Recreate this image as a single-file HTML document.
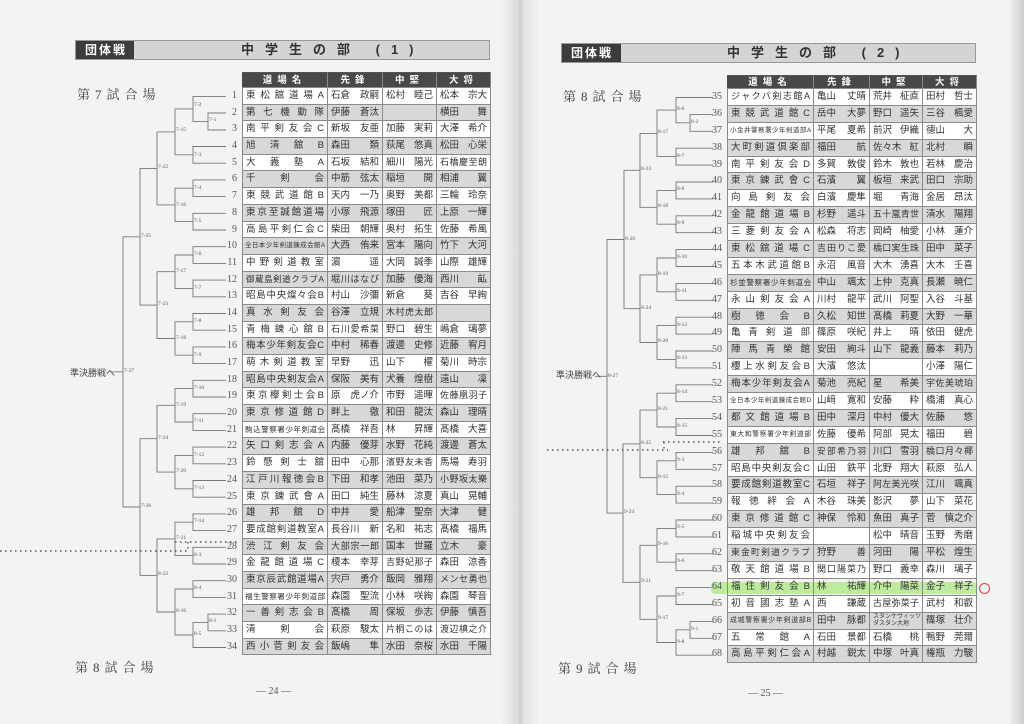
<!DOCTYPE html>
<html><head><meta charset="utf-8">
<style>
*{margin:0;padding:0;box-sizing:border-box}
body{width:1024px;height:724px;overflow:hidden;background:#f3f3f1;font-family:"Liberation Sans","Noto Sans CJK JP",sans-serif;color:#333;position:relative}
.fold{position:absolute;left:500px;top:0;width:40px;height:724px;background:linear-gradient(90deg,#f3f3f1,#dcdcda 45%,#cfcfcd 50%,#e2e2e0 60%,#f4f4f2)}
.redge{position:absolute;left:1010px;top:0;width:14px;height:724px;background:linear-gradient(90deg,#eee,#cfcfcf)}
.hb{position:absolute;height:20px;background:#d4d4d4;border:1px solid #999}
.hb .d{position:absolute;left:0;top:0;bottom:0;background:#3c3c3c;color:#fff;font-weight:bold;font-size:12px;line-height:18px;padding-left:9px;letter-spacing:2px}
.hb .t{position:absolute;top:0;line-height:18px;font-size:13px;font-weight:bold;color:#333;letter-spacing:11px}
.lab{position:absolute;font-family:"Liberation Serif","Noto Serif CJK SC",serif;font-size:13px;color:#444;letter-spacing:5px}
.pg{position:absolute;font-size:10px;color:#555;font-family:"Liberation Serif",serif}
.tb{position:absolute}
.r{display:flex;font-size:9.5px;line-height:15px}
.r .no{width:15px;text-align:right;margin-right:5px;font-family:"Liberation Serif",serif;color:#555;font-size:10px;}
.r>div{border-right:1px solid #8a8a8a;border-bottom:1px solid #8a8a8a;padding:0 3px;white-space:nowrap;overflow:hidden;background:#fff}
.r>div.n{border-left:1px solid #8a8a8a;text-align:justify;text-align-last:justify}
.r .n.sm{font-size:6.5px;letter-spacing:-0.2px;padding:0 2px}
.r .p{display:flex;justify-content:space-between}
.r .p.j{text-align-last:justify;display:block;font-size:9px}
.r i{font-style:normal}
.r.s>div{background:#d8d8d8}
.r.h>div{background:#484848;color:#fff;font-weight:bold;border-top:1px solid #555;text-align:center;letter-spacing:5px;text-align-last:center}
.L .r{height:16.7px}.L .r>div{line-height:15.7px}
.R .r{height:16.9px}.R .r>div{line-height:15.9px}
.L .c1{width:86px}.L .c2{width:55px}.L .c3{width:54px}.L .c4{width:54px}
.R .c1{width:87px}.R .c2{width:56px}.R .c3{width:53px}.R .c4{width:54px}
.sm2{font-size:6px;line-height:7px!important}
</style></head><body>
<div class="fold"></div><div class="redge"></div>

<div class="hb" style="left:75px;top:40px;width:415px"><div class="d" style="width:58px">団体戦</div><div class="t" style="left:165px">中学生の部 (1)</div></div>
<div class="hb" style="left:561px;top:43px;width:415px"><div class="d" style="width:59px">団体戦</div><div class="t" style="left:165px">中学生の部 (2)</div></div>

<div class="lab" style="left:77px;top:84px">第7試合場</div>
<div class="lab" style="left:75px;top:657px">第8試合場</div>
<div class="lab" style="left:563px;top:86px">第8試合場</div>
<div class="lab" style="left:558px;top:658px">第9試合場</div>
<div class="pg" style="left:256px;top:686px">— 24 —</div>
<div class="pg" style="left:748px;top:688px">— 25 —</div>
<div style="position:absolute;left:70px;top:366px;font-size:9px;color:#444">準決勝戦へ</div>
<div style="position:absolute;left:556px;top:368px;font-size:9px;color:#444">準決勝戦へ</div>

<svg style="position:absolute;left:0;top:0" width="1024" height="724" fill="none" stroke="#777" stroke-width="0.9">
<g>
<path d="M226 113 H208 V130 H226"/><path d="M226 96.4 H193 V121.4 H208"/><path d="M226 146.5 H193 V163.2 H226"/>
<path d="M193 108.9 H175 V154.8 H193"/><path d="M226 179.9 H193 V196.6 H226"/><path d="M226 213.3 H193 V230 H226"/>
<path d="M193 188.2 H175 V221.6 H193"/><path d="M175 131.9 H157 V204.9 H175"/>
<path d="M226 246.7 H193 V263.4 H226"/><path d="M226 280.1 H193 V296.8 H226"/><path d="M193 255 H175 V288.4 H193"/>
<path d="M226 313.5 H193 V330.2 H226"/><path d="M226 346.9 H193 V363.6 H226"/><path d="M193 321.8 H175 V355.2 H193"/>
<path d="M175 271.7 H157 V338.5 H175"/><path d="M157 168.4 H140 V305.1 H157"/>
<path d="M226 380.3 H193 V397 H226"/><path d="M226 413.7 H193 V430.4 H226"/><path d="M193 388.6 H175 V422 H193"/>
<path d="M226 447.1 H193 V463.8 H226"/><path d="M226 480.5 H193 V497.2 H226"/><path d="M193 455.4 H175 V488.8 H193"/>
<path d="M175 405.3 H157 V472.1 H175"/>
<path d="M226 513.9 H193 V530.6 H226"/><path d="M226 547.3 H193 V564 H226"/><path d="M193 522.2 H175 V555.6 H193"/>
<path d="M226 580.7 H193 V597.4 H226"/><path d="M226 614.1 H208 V630.8 H226"/><path d="M208 622.4 H193 V647.5 H226"/>
<path d="M193 589 H175 V635 H193"/><path d="M175 538.9 H157 V612 H175"/><path d="M157 438.7 H140 V575.4 H157"/>
<path d="M140 236.8 H123 V507 H140"/><path d="M123 371.9 H110"/>
</g>
<g>
<path d="M713 114.4 H690 V131.3 H713"/><path d="M713 97.5 H676 V122.8 H690"/><path d="M713 148.2 H676 V165.1 H713"/>
<path d="M676 110.1 H657 V156.6 H676"/><path d="M713 182 H676 V198.9 H713"/><path d="M713 215.8 H676 V232.7 H713"/>
<path d="M676 190.4 H657 V224.2 H676"/><path d="M657 133.4 H640 V207.3 H657"/>
<path d="M713 249.6 H676 V266.5 H713"/><path d="M713 283.4 H676 V300.3 H713"/><path d="M676 258 H657 V291.8 H676"/>
<path d="M713 317.2 H676 V334.1 H713"/><path d="M713 351 H676 V367.9 H713"/><path d="M676 325.6 H657 V359.4 H676"/>
<path d="M657 274.9 H640 V342.5 H657"/><path d="M640 170.3 H624 V308.7 H640"/>
<path d="M713 384.8 H676 V401.7 H713"/><path d="M713 418.6 H676 V435.5 H713"/><path d="M676 393.2 H657 V427 H676"/>
<path d="M713 452.4 H676 V469.3 H713"/><path d="M713 486.2 H676 V503.1 H713"/><path d="M676 460.8 H657 V494.6 H676"/>
<path d="M657 410.1 H640 V477.7 H657"/>
<path d="M713 520 H676 V536.9 H713"/><path d="M713 553.8 H676 V570.7 H713"/><path d="M676 528.4 H657 V562.2 H676"/>
<path d="M713 587.6 H676 V604.5 H713"/><path d="M713 621.4 H690 V638.3 H713"/><path d="M690 629.8 H676 V655.2 H713"/>
<path d="M676 596 H657 V642.5 H676"/><path d="M657 545.3 H640 V619.3 H657"/><path d="M640 443.9 H623 V582.3 H640"/>
<path d="M624 239.5 H607 V513.1 H623"/><path d="M607 376.3 H595"/>
</g>
<g stroke="#555" stroke-width="1.4" stroke-dasharray="1.5 3.5">
<path d="M0 551 H190"/><path d="M175 542 H240"/><path d="M188 542 V551"/>
<path d="M547 450 H668"/><path d="M663 442 H723"/><path d="M664 442 V450"/>
</g>
<g fill="#555" stroke="none" font-size="5.5" font-family="Liberation Serif, serif">
<text x="194" y="106">7-2</text><text x="209" y="121">7-1</text><text x="194" y="156">7-3</text><text x="176" y="131">7-15</text>
<text x="194" y="189">7-4</text><text x="194" y="222">7-5</text><text x="176" y="206">7-16</text><text x="158" y="168">7-22</text>
<text x="194" y="255">7-6</text><text x="194" y="289">7-7</text><text x="176" y="272">7-17</text><text x="194" y="322">7-8</text>
<text x="194" y="356">7-9</text><text x="176" y="339">7-18</text><text x="158" y="305">7-23</text><text x="141" y="237">7-25</text>
<text x="194" y="389">7-10</text><text x="194" y="422">7-11</text><text x="176" y="406">7-19</text><text x="194" y="456">7-12</text>
<text x="194" y="489">7-13</text><text x="176" y="472">7-20</text><text x="158" y="439">7-24</text><text x="194" y="522">7-14</text>
<text x="194" y="556">8-3</text><text x="176" y="539">7-21</text><text x="194" y="589">8-4</text><text x="209" y="622">8-1</text>
<text x="194" y="635">8-5</text><text x="176" y="612">8-16</text><text x="158" y="575">8-22</text><text x="141" y="507">7-26</text>
<text x="124" y="372">7-27</text>
<text x="677" y="110">8-6</text><text x="691" y="123">8-2</text><text x="677" y="157">8-7</text><text x="658" y="133">8-17</text>
<text x="677" y="190">8-8</text><text x="677" y="224">8-9</text><text x="658" y="207">8-18</text><text x="641" y="170">8-23</text>
<text x="677" y="258">8-10</text><text x="677" y="292">8-11</text><text x="658" y="275">8-19</text><text x="677" y="326">8-12</text>
<text x="677" y="359">8-13</text><text x="658" y="342">8-20</text><text x="641" y="309">8-24</text><text x="625" y="240">8-26</text>
<text x="677" y="393">8-14</text><text x="677" y="427">8-15</text><text x="658" y="410">8-21</text><text x="677" y="461">9-3</text>
<text x="677" y="495">9-4</text><text x="658" y="478">9-15</text><text x="641" y="444">8-25</text><text x="677" y="528">9-5</text>
<text x="677" y="562">9-6</text><text x="658" y="545">9-16</text><text x="677" y="596">9-7</text><text x="691" y="630">9-1</text>
<text x="677" y="643">9-8</text><text x="658" y="619">9-17</text><text x="641" y="582">9-21</text><text x="624" y="513">9-24</text>
<text x="608" y="377">8-27</text>
</g>
</svg>

<div class="tb L" style="left:222px;top:72px">
<div class="r h" style="height:16px"><span class="no"></span><div class="c1">道場名</div><div class="c2">先鋒</div><div class="c3">中堅</div><div class="c4">大将</div></div>
<div class="r"><span class="no">1</span><div class="n c1">東松舘道場A</div><div class="p c2"><i>石倉</i><i>政嗣</i></div><div class="p c3"><i>松村</i><i>睦己</i></div><div class="p c4"><i>松本</i><i>宗大</i></div></div>
<div class="r s"><span class="no">2</span><div class="n c1">第七機動隊</div><div class="p c2"><i>伊藤</i><i>蒼汰</i></div><div class="p c3"></div><div class="p c4"><i>横田</i><i>舞</i></div></div>
<div class="r"><span class="no">3</span><div class="n c1">南平剣友会C</div><div class="p c2"><i>新坂</i><i>友亜</i></div><div class="p c3"><i>加藤</i><i>実莉</i></div><div class="p c4"><i>大澤</i><i>希介</i></div></div>
<div class="r s"><span class="no">4</span><div class="n c1">旭清舘B</div><div class="p c2"><i>森田</i><i>類</i></div><div class="p c3"><i>荻尾</i><i>悠真</i></div><div class="p c4"><i>松田</i><i>心栄</i></div></div>
<div class="r"><span class="no">5</span><div class="n c1">大義塾A</div><div class="p c2"><i>石坂</i><i>結和</i></div><div class="p c3"><i>細川</i><i>陽光</i></div><div class="p j c4">石橋慶至朗</div></div>
<div class="r s"><span class="no">6</span><div class="n c1">千剣会</div><div class="p c2"><i>中筋</i><i>弦太</i></div><div class="p c3"><i>稲垣</i><i>開</i></div><div class="p c4"><i>相浦</i><i>翼</i></div></div>
<div class="r"><span class="no">7</span><div class="n c1">東競武道館B</div><div class="p c2"><i>天内</i><i>一乃</i></div><div class="p c3"><i>奥野</i><i>美都</i></div><div class="p c4"><i>三輪</i><i>玲奈</i></div></div>
<div class="r s"><span class="no">8</span><div class="n c1">東京至誠館道場</div><div class="p c2"><i>小塚</i><i>飛源</i></div><div class="p c3"><i>塚田</i><i>匠</i></div><div class="p c4"><i>上原</i><i>一輝</i></div></div>
<div class="r"><span class="no">9</span><div class="n c1">高島平剣仁会C</div><div class="p c2"><i>柴田</i><i>朝輝</i></div><div class="p c3"><i>奥村</i><i>拓生</i></div><div class="p c4"><i>佐藤</i><i>希風</i></div></div>
<div class="r s"><span class="no">10</span><div class="n sm c1">全日本少年剣道錬成会館A</div><div class="p c2"><i>大西</i><i>侑来</i></div><div class="p c3"><i>宮本</i><i>陽向</i></div><div class="p c4"><i>竹下</i><i>大河</i></div></div>
<div class="r"><span class="no">11</span><div class="n c1">中野剣道教室</div><div class="p c2"><i>濵</i><i>遥</i></div><div class="p c3"><i>大岡</i><i>誠季</i></div><div class="p c4"><i>山際</i><i>雄輝</i></div></div>
<div class="r s"><span class="no">12</span><div class="n c1" style="font-size:8.5px">御蔵島剣道クラブA</div><div class="p j c2">堀川はなび</div><div class="p c3"><i>加藤</i><i>優海</i></div><div class="p c4"><i>西川</i><i>畆</i></div></div>
<div class="r"><span class="no">13</span><div class="n c1">昭島中央燦々会B</div><div class="p c2"><i>村山</i><i>沙彌</i></div><div class="p c3"><i>新倉</i><i>葵</i></div><div class="p c4"><i>吉谷</i><i>早絢</i></div></div>
<div class="r s"><span class="no">14</span><div class="n c1">真水剣友会</div><div class="p c2"><i>谷澤</i><i>立規</i></div><div class="p j c3">木村虎太郎</div><div class="p c4"></div></div>
<div class="r"><span class="no">15</span><div class="n c1">青梅錬心舘B</div><div class="p j c2">石川愛希菜</div><div class="p c3"><i>野口</i><i>碧生</i></div><div class="p c4"><i>嶋倉</i><i>璃夢</i></div></div>
<div class="r s"><span class="no">16</span><div class="n c1">梅本少年剣友会C</div><div class="p c2"><i>中村</i><i>稀春</i></div><div class="p c3"><i>渡邊</i><i>史修</i></div><div class="p c4"><i>近藤</i><i>宥月</i></div></div>
<div class="r"><span class="no">17</span><div class="n c1">萌木剣道教室</div><div class="p c2"><i>早野</i><i>迅</i></div><div class="p c3"><i>山下</i><i>櫂</i></div><div class="p c4"><i>菊川</i><i>時宗</i></div></div>
<div class="r s"><span class="no">18</span><div class="n c1">昭島中央剣友会A</div><div class="p c2"><i>保阪</i><i>美有</i></div><div class="p c3"><i>犬養</i><i>煌樹</i></div><div class="p c4"><i>遠山</i><i>凜</i></div></div>
<div class="r"><span class="no">19</span><div class="n c1">東京欅剣士会B</div><div class="p c2"><i>原</i><i>虎ノ介</i></div><div class="p c3"><i>市野</i><i>遥暉</i></div><div class="p j c4">佐藤凰羽子</div></div>
<div class="r s"><span class="no">20</span><div class="n c1">東京修道館D</div><div class="p c2"><i>畔上</i><i>徹</i></div><div class="p c3"><i>和田</i><i>龍汰</i></div><div class="p c4"><i>森山</i><i>理晴</i></div></div>
<div class="r"><span class="no">21</span><div class="n sm c1" style="font-size:7.6px">駒込警察署少年剣道会</div><div class="p c2"><i>髙橋</i><i>祥吾</i></div><div class="p c3"><i>林</i><i>昇輝</i></div><div class="p c4"><i>髙橋</i><i>大喜</i></div></div>
<div class="r s"><span class="no">22</span><div class="n c1">矢口剣志会A</div><div class="p c2"><i>内藤</i><i>優芽</i></div><div class="p c3"><i>水野</i><i>花純</i></div><div class="p c4"><i>渡邊</i><i>蒼太</i></div></div>
<div class="r"><span class="no">23</span><div class="n c1">鈴懸剣士舘</div><div class="p c2"><i>田中</i><i>心那</i></div><div class="p j c3">濱野友未香</div><div class="p c4"><i>馬場</i><i>寿羽</i></div></div>
<div class="r s"><span class="no">24</span><div class="n c1">江戸川報徳会B</div><div class="p c2"><i>下田</i><i>和孝</i></div><div class="p c3"><i>池田</i><i>菜乃</i></div><div class="p j c4">小野坂太樂</div></div>
<div class="r"><span class="no">25</span><div class="n c1">東京錬武會A</div><div class="p c2"><i>田口</i><i>純生</i></div><div class="p c3"><i>藤林</i><i>涼夏</i></div><div class="p c4"><i>真山</i><i>晃輔</i></div></div>
<div class="r s"><span class="no">26</span><div class="n c1">雄邦舘D</div><div class="p c2"><i>中井</i><i>愛</i></div><div class="p c3"><i>船津</i><i>聖奈</i></div><div class="p c4"><i>大津</i><i>健</i></div></div>
<div class="r"><span class="no">27</span><div class="n c1">要成館剣道教室A</div><div class="p c2"><i>長谷川</i><i>新</i></div><div class="p c3"><i>名和</i><i>祐志</i></div><div class="p c4"><i>髙橋</i><i>福馬</i></div></div>
<div class="r s"><span class="no">28</span><div class="n c1">渋江剣友会</div><div class="p j c2">大部宗一郎</div><div class="p c3"><i>国本</i><i>世羅</i></div><div class="p c4"><i>立木</i><i>豪</i></div></div>
<div class="r"><span class="no">29</span><div class="n c1">金龍館道場C</div><div class="p c2"><i>榎本</i><i>幸芽</i></div><div class="p j c3">吉野妃那子</div><div class="p c4"><i>森田</i><i>涼香</i></div></div>
<div class="r s"><span class="no">30</span><div class="n c1">東京辰武館道場A</div><div class="p c2"><i>宍戸</i><i>勇介</i></div><div class="p c3"><i>飯岡</i><i>雅翔</i></div><div class="p j c4">メンセ勇也</div></div>
<div class="r"><span class="no">31</span><div class="n sm c1" style="font-size:7.6px">福生警察署少年剣道部</div><div class="p c2"><i>森園</i><i>聖流</i></div><div class="p c3"><i>小林</i><i>咲絢</i></div><div class="p c4"><i>森園</i><i>琴音</i></div></div>
<div class="r s"><span class="no">32</span><div class="n c1">一善剣志会B</div><div class="p c2"><i>髙橋</i><i>周</i></div><div class="p c3"><i>保坂</i><i>歩志</i></div><div class="p c4"><i>伊藤</i><i>慎吾</i></div></div>
<div class="r"><span class="no">33</span><div class="n c1">清剣会</div><div class="p c2"><i>萩原</i><i>駿太</i></div><div class="p j c3">片桐このは</div><div class="p j c4">渡辺槙之介</div></div>
<div class="r s"><span class="no">34</span><div class="n c1">西小菅剣友会</div><div class="p c2"><i>飯嶋</i><i>隼</i></div><div class="p c3"><i>水田</i><i>奈桜</i></div><div class="p c4"><i>水田</i><i>千陽</i></div></div>
</div>

<div style="position:absolute;left:711px;top:582px;width:266px;height:12px;background:#b0e88a;opacity:.8;border-radius:4px"></div>
<div style="position:absolute;left:979px;top:583px;width:11px;height:11px;border:1.3px solid #e04040;border-radius:50%"></div>

<div class="tb R" style="left:707px;top:75px">
<div class="r h" style="height:14px"><span class="no"></span><div class="c1" style="line-height:13px">道場名</div><div class="c2" style="line-height:13px">先鋒</div><div class="c3" style="line-height:13px">中堅</div><div class="c4" style="line-height:13px">大将</div></div>
<div class="r"><span class="no">35</span><div class="n c1" style="font-size:9px">ジャクパ剣志館A</div><div class="p c2"><i>亀山</i><i>丈晴</i></div><div class="p c3"><i>荒井</i><i>柾直</i></div><div class="p c4"><i>田村</i><i>哲士</i></div></div>
<div class="r s"><span class="no">36</span><div class="n c1">東競武道館C</div><div class="p c2"><i>岳中</i><i>大夢</i></div><div class="p c3"><i>野口</i><i>遥矢</i></div><div class="p c4"><i>三谷</i><i>楓愛</i></div></div>
<div class="r"><span class="no">37</span><div class="n sm c1">小金井警察署少年剣道部A</div><div class="p c2"><i>平尾</i><i>夏希</i></div><div class="p c3"><i>前沢</i><i>伊織</i></div><div class="p c4"><i>德山</i><i>大</i></div></div>
<div class="r s"><span class="no">38</span><div class="n c1">大町剣道倶楽部</div><div class="p c2"><i>福田</i><i>航</i></div><div class="p c3"><i>佐々木</i><i>紅</i></div><div class="p c4"><i>北村</i><i>瞬</i></div></div>
<div class="r"><span class="no">39</span><div class="n c1">南平剣友会D</div><div class="p c2"><i>多賀</i><i>敦俊</i></div><div class="p c3"><i>鈴木</i><i>敦也</i></div><div class="p c4"><i>若林</i><i>慶治</i></div></div>
<div class="r s"><span class="no">40</span><div class="n c1">東京錬武會C</div><div class="p c2"><i>石濱</i><i>翼</i></div><div class="p c3"><i>板垣</i><i>来武</i></div><div class="p c4"><i>田口</i><i>宗助</i></div></div>
<div class="r"><span class="no">41</span><div class="n c1">向島剣友会</div><div class="p c2"><i>白濱</i><i>慶隼</i></div><div class="p c3"><i>堀</i><i>青海</i></div><div class="p c4"><i>金居</i><i>昂汰</i></div></div>
<div class="r s"><span class="no">42</span><div class="n c1">金龍館道場B</div><div class="p c2"><i>杉野</i><i>遥斗</i></div><div class="p j c3">五十嵐青世</div><div class="p c4"><i>清水</i><i>陽翔</i></div></div>
<div class="r"><span class="no">43</span><div class="n c1">三菱剣友会A</div><div class="p c2"><i>松森</i><i>将志</i></div><div class="p c3"><i>岡崎</i><i>柚愛</i></div><div class="p c4"><i>小林</i><i>蓮介</i></div></div>
<div class="r s"><span class="no">44</span><div class="n c1">東松舘道場C</div><div class="p j c2">吉田りこ愛</div><div class="p j c3">橋口実生珠</div><div class="p c4"><i>田中</i><i>菜子</i></div></div>
<div class="r"><span class="no">45</span><div class="n c1">五本木武道館B</div><div class="p c2"><i>永沼</i><i>風音</i></div><div class="p c3"><i>大木</i><i>湧喜</i></div><div class="p c4"><i>大木</i><i>壬喜</i></div></div>
<div class="r s"><span class="no">46</span><div class="n sm c1" style="font-size:7.6px">杉並警察署少年剣道会</div><div class="p c2"><i>中山</i><i>颯太</i></div><div class="p c3"><i>上仲</i><i>克真</i></div><div class="p c4"><i>長瀬</i><i>暁仁</i></div></div>
<div class="r"><span class="no">47</span><div class="n c1">永山剣友会A</div><div class="p c2"><i>川村</i><i>龍平</i></div><div class="p c3"><i>武川</i><i>阿聖</i></div><div class="p c4"><i>入谷</i><i>斗基</i></div></div>
<div class="r s"><span class="no">48</span><div class="n c1">樹徳会B</div><div class="p c2"><i>久松</i><i>知世</i></div><div class="p c3"><i>髙橋</i><i>莉夏</i></div><div class="p c4"><i>大野</i><i>一華</i></div></div>
<div class="r"><span class="no">49</span><div class="n c1">亀青剣道部</div><div class="p c2"><i>篠原</i><i>咲紀</i></div><div class="p c3"><i>井上</i><i>晴</i></div><div class="p c4"><i>依田</i><i>健虎</i></div></div>
<div class="r s"><span class="no">50</span><div class="n c1">陣馬青榮館</div><div class="p c2"><i>安田</i><i>絢斗</i></div><div class="p c3"><i>山下</i><i>龍義</i></div><div class="p c4"><i>藤本</i><i>莉乃</i></div></div>
<div class="r"><span class="no">51</span><div class="n c1">櫻上水剣友会B</div><div class="p c2"><i>大濱</i><i>悠汰</i></div><div class="p c3"></div><div class="p c4"><i>小澤</i><i>陽仁</i></div></div>
<div class="r s"><span class="no">52</span><div class="n c1">梅本少年剣友会A</div><div class="p c2"><i>菊池</i><i>亮紀</i></div><div class="p c3"><i>星</i><i>希美</i></div><div class="p j c4">宇佐美琥珀</div></div>
<div class="r"><span class="no">53</span><div class="n sm c1">全日本少年剣道錬成会館D</div><div class="p c2"><i>山﨑</i><i>寛和</i></div><div class="p c3"><i>安藤</i><i>粋</i></div><div class="p c4"><i>橋浦</i><i>真心</i></div></div>
<div class="r s"><span class="no">54</span><div class="n c1">都文館道場B</div><div class="p c2"><i>田中</i><i>深月</i></div><div class="p c3"><i>中村</i><i>優大</i></div><div class="p c4"><i>佐藤</i><i>悠</i></div></div>
<div class="r"><span class="no">55</span><div class="n sm c1" style="font-size:6.9px">東大和警察署少年剣道部</div><div class="p c2"><i>佐藤</i><i>優希</i></div><div class="p c3"><i>阿部</i><i>晃太</i></div><div class="p c4"><i>福田</i><i>碧</i></div></div>
<div class="r s"><span class="no">56</span><div class="n c1">雄邦舘B</div><div class="p j c2" style="font-size:8.5px">安部希乃羽</div><div class="p c3"><i>川口</i><i>雪羽</i></div><div class="p j c4">橋口月々椰</div></div>
<div class="r"><span class="no">57</span><div class="n c1">昭島中央剣友会C</div><div class="p c2"><i>山田</i><i>鉄平</i></div><div class="p c3"><i>北野</i><i>翔大</i></div><div class="p c4"><i>萩原</i><i>弘人</i></div></div>
<div class="r s"><span class="no">58</span><div class="n c1">要成館剣道教室C</div><div class="p c2"><i>石垣</i><i>祥子</i></div><div class="p j c3">阿左美光咲</div><div class="p c4"><i>江川</i><i>颯真</i></div></div>
<div class="r"><span class="no">59</span><div class="n c1">報徳絆会A</div><div class="p c2"><i>木谷</i><i>珠美</i></div><div class="p c3"><i>影沢</i><i>夢</i></div><div class="p c4"><i>山下</i><i>菜花</i></div></div>
<div class="r s"><span class="no">60</span><div class="n c1">東京修道館C</div><div class="p c2"><i>神保</i><i>怜和</i></div><div class="p c3"><i>魚田</i><i>真子</i></div><div class="p c4"><i>菅</i><i>慎之介</i></div></div>
<div class="r"><span class="no">61</span><div class="n c1">稲城中央剣友会</div><div class="p c2"></div><div class="p c3"><i>松中</i><i>晴音</i></div><div class="p c4"><i>玉野</i><i>秀磨</i></div></div>
<div class="r s"><span class="no">62</span><div class="n c1" style="font-size:8.8px">東金町剣道クラブ</div><div class="p c2"><i>狩野</i><i>善</i></div><div class="p c3"><i>河田</i><i>陽</i></div><div class="p c4"><i>平松</i><i>煌生</i></div></div>
<div class="r"><span class="no">63</span><div class="n c1">敬天館道場B</div><div class="p j c2">関口陽菜乃</div><div class="p c3"><i>野口</i><i>義幸</i></div><div class="p c4"><i>森川</i><i>璃子</i></div></div>
<div class="r s"><span class="no">64</span><div class="n c1" style="background:transparent">福住剣友会B</div><div class="p c2" style="background:transparent"><i>林</i><i>祐輝</i></div><div class="p c3" style="background:transparent"><i>介中</i><i>陽菜</i></div><div class="p c4" style="background:transparent"><i>金子</i><i>祥子</i></div></div>
<div class="r"><span class="no">65</span><div class="n c1">初音國志塾A</div><div class="p c2"><i>西</i><i>謙蔵</i></div><div class="p j c3">古屋弥菜子</div><div class="p c4"><i>武村</i><i>和叡</i></div></div>
<div class="r s"><span class="no">66</span><div class="n sm c1" style="font-size:6.9px">成城警察署少年剣道部B</div><div class="p c2"><i>田中</i><i>脉都</i></div><div class="c3 sm2" style="padding-top:1px">スタンケヴィッツ<br>ダスタン大地</div><div class="p c4"><i>篠塚</i><i>壮介</i></div></div>
<div class="r"><span class="no">67</span><div class="n c1">五常館A</div><div class="p c2"><i>石田</i><i>景都</i></div><div class="p c3"><i>石橋</i><i>桃</i></div><div class="p c4"><i>鴨野</i><i>莞爾</i></div></div>
<div class="r s"><span class="no">68</span><div class="n c1">高島平剣仁会A</div><div class="p c2"><i>村越</i><i>鋭太</i></div><div class="p c3"><i>中塚</i><i>叶真</i></div><div class="p c4"><i>権瓶</i><i>力駿</i></div></div>
</div>
</body></html>
